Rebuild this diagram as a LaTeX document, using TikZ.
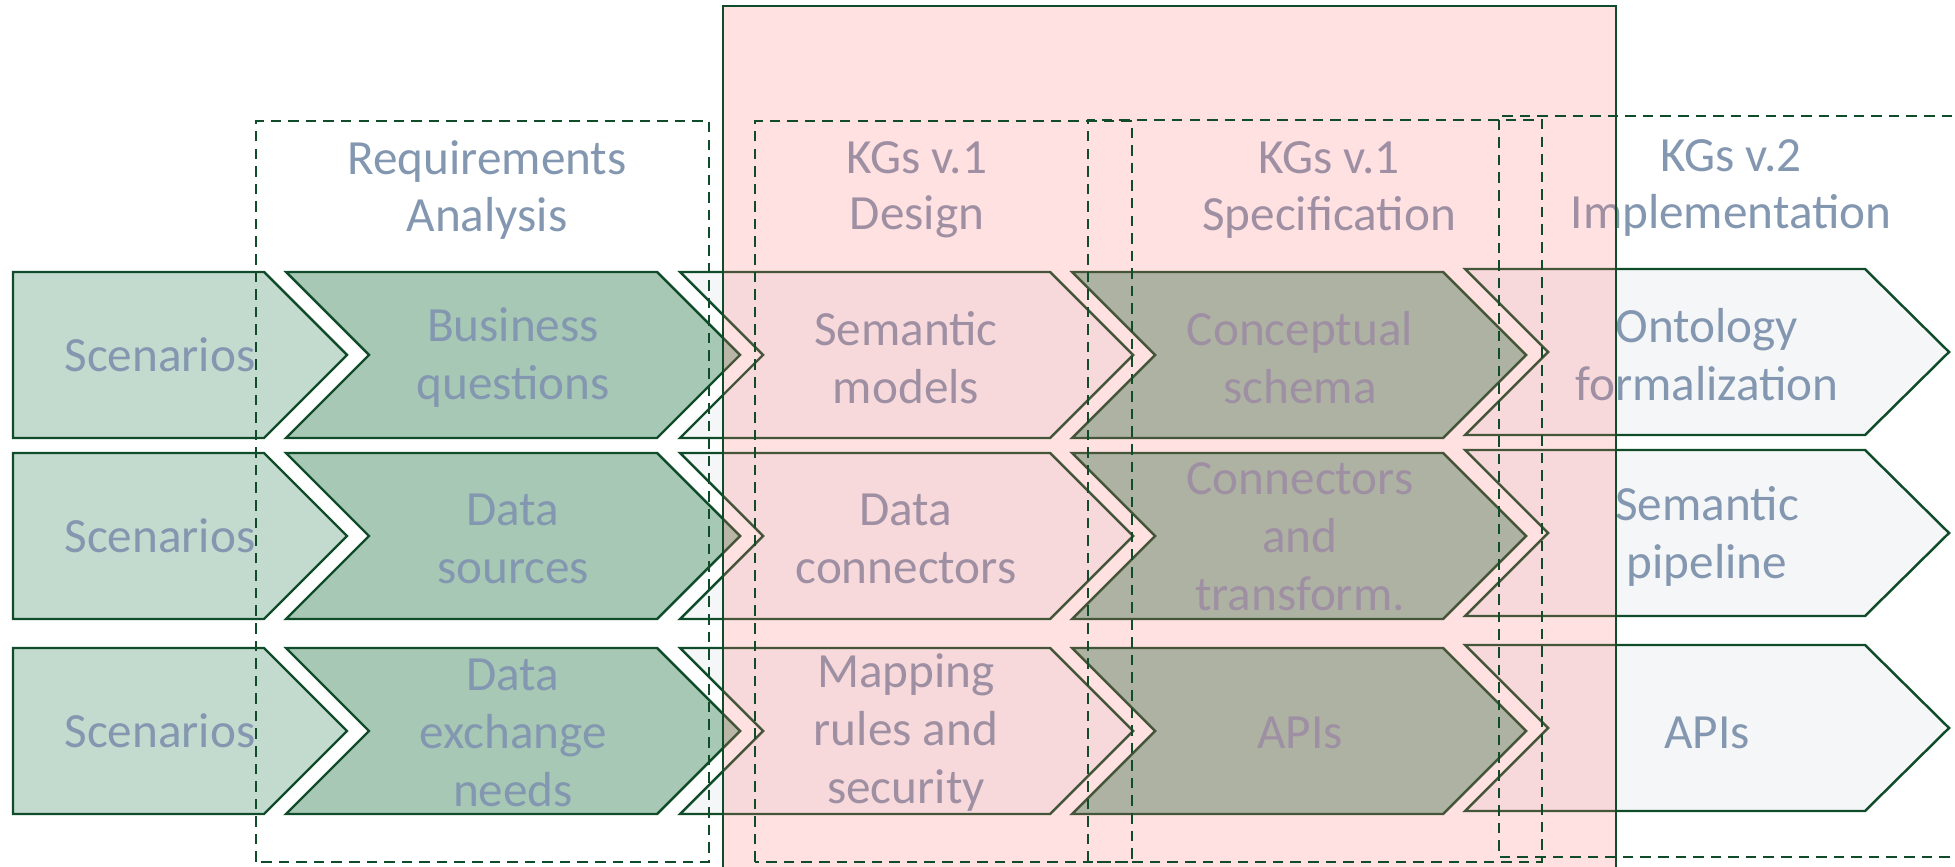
\documentclass[tikz,border=0pt]{standalone}
\usepackage{fontspec}
\setmainfont{Carlito}
\usetikzlibrary{positioning}

\definecolor{linegreen}{HTML}{114C2A}
\definecolor{txtgray}{HTML}{8497B0}
\definecolor{scenfill}{HTML}{C2DBCE}
\definecolor{reqfill}{HTML}{A6C8B5}
\definecolor{specfill}{HTML}{97C4B0}
\definecolor{implfill}{HTML}{F5F6F8}
\definecolor{overlaypink}{RGB}{255,118,118}

\tikzset{
  chev/.style={draw=linegreen, line width=0.7pt, line join=miter},
  phase/.style={draw=linegreen, line width=0.7pt, dash pattern=on 3pt off 2pt},
  lbl/.style={text=txtgray, align=center, inner sep=0pt, font=\fontsize{14}{16.5}\selectfont},
  head/.style={text=txtgray, align=center, inner sep=0pt, font=\fontsize{14}{16}\selectfont}
}

\begin{document}
\begin{tikzpicture}
  \useasboundingbox (0, 0) rectangle (19.55, 8.66);

  % Scenarios column
  \draw[chev, fill=scenfill] (0.13, 5.94) -- (2.64, 5.94) -- (3.47, 5.11) -- (2.64, 4.28) -- (0.13, 4.28) -- cycle;
  \draw[chev, fill=scenfill] (0.13, 4.13) -- (2.64, 4.13) -- (3.47, 3.30) -- (2.64, 2.47) -- (0.13, 2.47) -- cycle;
  \draw[chev, fill=scenfill] (0.13, 2.18) -- (2.64, 2.18) -- (3.47, 1.35) -- (2.64, 0.52) -- (0.13, 0.52) -- cycle;

  % Requirements column
  \draw[chev, fill=reqfill] (2.86, 5.94) -- (6.57, 5.94) -- (7.40, 5.11) -- (6.57, 4.28) -- (2.86, 4.28) -- (3.69, 5.11) -- cycle;
  \draw[chev, fill=reqfill] (2.86, 4.13) -- (6.57, 4.13) -- (7.40, 3.30) -- (6.57, 2.47) -- (2.86, 2.47) -- (3.69, 3.30) -- cycle;
  \draw[chev, fill=reqfill] (2.86, 2.18) -- (6.57, 2.18) -- (7.40, 1.35) -- (6.57, 0.52) -- (2.86, 0.52) -- (3.69, 1.35) -- cycle;

  % Design column
  \draw[chev, fill=implfill] (6.80, 5.94) -- (10.50, 5.94) -- (11.33, 5.11) -- (10.50, 4.28) -- (6.80, 4.28) -- (7.63, 5.11) -- cycle;
  \draw[chev, fill=implfill] (6.80, 4.13) -- (10.50, 4.13) -- (11.33, 3.30) -- (10.50, 2.47) -- (6.80, 2.47) -- (7.63, 3.30) -- cycle;
  \draw[chev, fill=implfill] (6.80, 2.18) -- (10.50, 2.18) -- (11.33, 1.35) -- (10.50, 0.52) -- (6.80, 0.52) -- (7.63, 1.35) -- cycle;

  % Specification column
  \draw[chev, fill=specfill] (10.72, 5.94) -- (14.43, 5.94) -- (15.26, 5.11) -- (14.43, 4.28) -- (10.72, 4.28) -- (11.55, 5.11) -- cycle;
  \draw[chev, fill=specfill] (10.72, 4.13) -- (14.43, 4.13) -- (15.26, 3.30) -- (14.43, 2.47) -- (10.72, 2.47) -- (11.55, 3.30) -- cycle;
  \draw[chev, fill=specfill] (10.72, 2.18) -- (14.43, 2.18) -- (15.26, 1.35) -- (14.43, 0.52) -- (10.72, 0.52) -- (11.55, 1.35) -- cycle;

  % Implementation column
  \draw[chev, fill=implfill] (14.65, 5.97) -- (18.65, 5.97) -- (19.49, 5.14) -- (18.65, 4.31) -- (14.65, 4.31) -- (15.48, 5.14) -- cycle;
  \draw[chev, fill=implfill] (14.65, 4.16) -- (18.65, 4.16) -- (19.49, 3.33) -- (18.65, 2.50) -- (14.65, 2.50) -- (15.48, 3.33) -- cycle;
  \draw[chev, fill=implfill] (14.65, 2.21) -- (18.65, 2.21) -- (19.49, 1.38) -- (18.65, 0.55) -- (14.65, 0.55) -- (15.48, 1.38) -- cycle;

  % Labels of the steps
  \node[lbl] (scen1) at (1.60, 5.11) {Scenarios};
  \node[lbl] (scen2) at (1.60, 3.30) {Scenarios};
  \node[lbl] (scen3) at (1.60, 1.35) {Scenarios};
  \node[lbl] (busq) at (5.13, 5.08) {Business\\questions};
  \node[lbl] (dsrc) at (5.13, 3.27) {Data\\sources};
  \node[lbl] (dexch) at (5.13, 1.33) {Data\\exchange\\needs};
  \node[lbl] (semmod) at (9.06, 5.08) {Semantic\\models};
  \node[lbl] (dconn) at (9.06, 3.27) {Data\\connectors};
  \node[lbl] (maprul) at (9.06, 1.33) {Mapping\\rules and\\security};
  \node[lbl] (concsch) at (13.00, 5.08) {Conceptual\\schema};
  \node[lbl] (conntr) at (13.00, 3.29) {Connectors\\and\\transform.};
  \node[lbl] (apis1) at (13.00, 1.33) {APIs};
  \node[lbl] (ontform) at (17.07, 5.11) {Ontology\\formalization};
  \node[lbl] (sempipe) at (17.07, 3.30) {Semantic\\pipeline};
  \node[lbl] (apis2) at (17.07, 1.33) {APIs};

  % Phase titles
  \node[head] (reqan) at (4.87, 6.76) {Requirements\\Analysis};
  \node[head] (design) at (9.17, 6.76) {KGs v.1\\Design};
  \node[head] (spec) at (13.29, 6.76) {KGs v.1\\Specification};
  \node[head] (impl) at (17.31, 6.78) {KGs v.2\\Implementation};

  % Version 1 band
  \fill[overlaypink, fill opacity=0.22] (7.23, 8.60) rectangle (16.16, -0.20);
  \draw[linegreen, line width=0.7pt] (7.23, -0.20) -- (7.23, 8.60) -- (16.16, 8.60) -- (16.16, -0.20);

  % Phase frames
  \draw[phase] (2.56, 0.04) rectangle (7.09, 7.45);
  \draw[phase] (7.55, 0.04) rectangle (11.32, 7.45);
  \draw[phase] (10.88, 0.04) rectangle (15.42, 7.46);
  \draw[phase] (20.20, 0.09) -- (14.99, 0.09) -- (14.99, 7.50) -- (20.20, 7.50);
\end{tikzpicture}
\end{document}
